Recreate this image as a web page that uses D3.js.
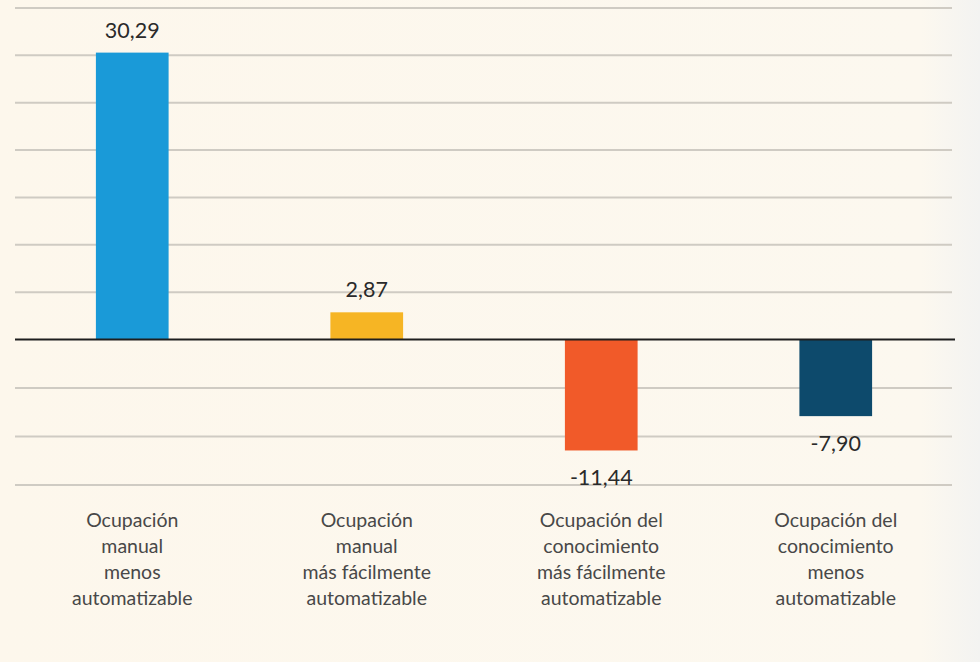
<!DOCTYPE html>
<html><head><meta charset="utf-8">
<script src="https://cdn.jsdelivr.net/npm/d3@7"></script>
<style>body{margin:0;background:#fdf7ec;} svg{display:block;}</style>
</head><body>
<script>
const categories = [
  ["Ocupación","manual","menos","automatizable"],
  ["Ocupación","manual","más fácilmente","automatizable"],
  ["Ocupación del","conocimiento","más fácilmente","automatizable"],
  ["Ocupación del","conocimiento","menos","automatizable"]
];
const values = [30.29, 2.87, -11.44, -7.90];
const valueLabels = ["30,29","2,87","-11,44","-7,90"];
const colors = ["#1a9ad8","#f6b524","#f15a29","#0d4a6c"];
const gridTicks = [-15,-10,-5,0,5,10,15,20,25,30,35];

const W=980,H=662;
const svg=d3.select("body").append("svg").attr("width",W).attr("height",H);
const defs=svg.append("defs");
const g=defs.append("linearGradient").attr("id","bg").attr("x1","0").attr("x2","1");
g.append("stop").attr("offset","0").attr("stop-color","#fdf7ec");
g.append("stop").attr("offset","0.94").attr("stop-color","#fcf8ef");
g.append("stop").attr("offset","1").attr("stop-color","#f3f3f1");
svg.append("rect").attr("width",W).attr("height",H).attr("fill","url(#bg)");

const x=d3.scaleBand().domain(d3.range(values.length)).range([15,953]).paddingInner(0.69).paddingOuter(0.345);
const y=d3.scaleLinear().domain([-15,0,35]).range([485,339.5,8]);

svg.append("g").selectAll("line").data(gridTicks.filter(t=>t!==0)).join("line")
  .attr("x1",15).attr("x2",952).attr("y1",d=>y(d)).attr("y2",d=>y(d))
  .attr("stroke","#cfcbc3").attr("stroke-width",2);

svg.append("g").selectAll("rect").data(values).join("rect")
  .attr("x",(d,i)=>x(i)).attr("width",x.bandwidth())
  .attr("y",d=>y(Math.max(0,d))).attr("height",d=>Math.abs(y(d)-y(0)))
  .attr("fill",(d,i)=>colors[i]);

svg.append("line").attr("x1",15).attr("x2",955).attr("y1",y(0)).attr("y2",y(0))
  .attr("stroke","#1e1e1e").attr("stroke-width",2);

svg.append("g").selectAll("text").data(values).join("text")
  .attr("x",(d,i)=>x(i)+x.bandwidth()/2)
  .attr("y",d=>d>=0?y(d)-15:y(d)+35)
  .attr("text-anchor","middle").attr("font-family","Lato, sans-serif").attr("font-size",21.5)
  .attr("fill","#2a2a2a").text((d,i)=>valueLabels[i]);

const lab=svg.append("g").selectAll("text").data(categories).join("text")
  .attr("x",(d,i)=>x(i)+x.bandwidth()/2).attr("y",527)
  .attr("text-anchor","middle").attr("font-family","Lato, sans-serif").attr("font-size",19.5)
  .attr("fill","#484848");
lab.selectAll("tspan").data(d=>d).join("tspan")
  .attr("x",function(){return this.parentNode.getAttribute("x");})
  .attr("dy",(d,j)=>j===0?0:26).text(d=>d);
</script>
</body></html>
